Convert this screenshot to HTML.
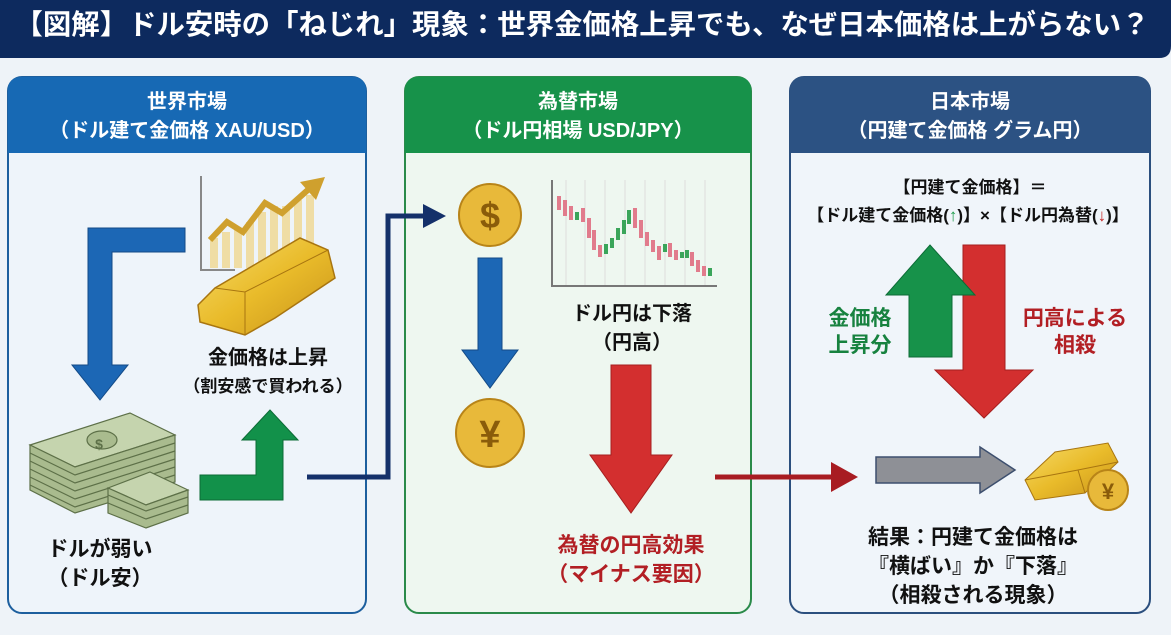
<!DOCTYPE html>
<html><head><meta charset="utf-8"><style>
body{margin:0;width:1171px;height:630px;overflow:hidden;background:#eef3f8;font-family:"Liberation Sans","Noto Sans CJK JP",sans-serif;}
text{font-family:"Liberation Sans","Noto Sans CJK JP",sans-serif;font-weight:bold;}
</style></head><body>
<svg width="1171" height="630" viewBox="0 0 1171 630" xmlns="http://www.w3.org/2000/svg">
<defs>
<linearGradient id="gold" x1="0" y1="0" x2="1" y2="1"><stop offset="0" stop-color="#f7dc6a"/><stop offset="0.5" stop-color="#e9bb2a"/><stop offset="1" stop-color="#c8921a"/></linearGradient>
</defs>
<path d="M0 0H1171V46Q1171 58 1159 58H0Z" fill="#0d2a5e"/>
<text x="582" y="34" font-size="28" fill="#fff" text-anchor="middle" textLength="1135" lengthAdjust="spacingAndGlyphs">【図解】ドル安時の「ねじれ」現象：世界金価格上昇でも、なぜ日本価格は上がらない？</text>

<rect x="8" y="77" width="358" height="536" rx="14" fill="#eef4fa" stroke="#1d5f9e" stroke-width="2"/>
<path d="M8 153V91Q8 77 22 77H352Q366 77 366 91V153Z" fill="#1769b4"/>
<text x="187" y="108" font-size="20" fill="#fff" text-anchor="middle">世界市場</text>
<text x="187" y="137" font-size="20" fill="#fff" text-anchor="middle">（ドル建て金価格 XAU/USD）</text>

<rect x="405" y="77" width="346" height="536" rx="14" fill="#eef7f0" stroke="#2a8a4a" stroke-width="2"/>
<path d="M405 153V91Q405 77 419 77H737Q751 77 751 91V153Z" fill="#17924a"/>
<text x="578" y="108" font-size="20" fill="#fff" text-anchor="middle">為替市場</text>
<text x="578" y="137" font-size="20" fill="#fff" text-anchor="middle">（ドル円相場 USD/JPY）</text>

<rect x="790" y="77" width="360" height="536" rx="14" fill="#f0f5fa" stroke="#2b4f7e" stroke-width="2"/>
<path d="M790 153V91Q790 77 804 77H1136Q1150 77 1150 91V153Z" fill="#2c5283"/>
<text x="970" y="108" font-size="20" fill="#fff" text-anchor="middle">日本市場</text>
<text x="970" y="137" font-size="20" fill="#fff" text-anchor="middle">（円建て金価格 グラム円）</text>

<path d="M185 228V252H112V365H128L100 400L72 365H88V228Z" fill="#1c67b5" stroke="#134a86" stroke-width="1"/>
<path d="M201 176V270H235" stroke="#888" stroke-width="2" fill="none"/>
<g fill="#f0d890" opacity="0.8"><rect x="210" y="238" width="8" height="30"/><rect x="222" y="232" width="8" height="36"/><rect x="234" y="228" width="8" height="40"/><rect x="246" y="222" width="8" height="46"/><rect x="258" y="212" width="8" height="56"/><rect x="270" y="206" width="8" height="62"/><rect x="282" y="206" width="8" height="62"/><rect x="294" y="200" width="8" height="68"/><rect x="306" y="195" width="8" height="73"/></g>
<path d="M210 240L227 222L243 232L265 203L282 213L310 188" stroke="#cfa02e" stroke-width="6" fill="none"/>
<path d="M300 182L325 177L316 200Z" fill="#cfa02e"/>
<path d="M198 305L215 288L300 238L328 250L335 278L275 318L245 335L200 322Z" fill="url(#gold)" stroke="#a87510" stroke-width="1.5"/>
<path d="M215 288L245 292L328 250M245 292L245 335" stroke="#a87510" fill="none"/>
<text x="268" y="364" font-size="20" fill="#111" text-anchor="middle">金価格は上昇</text>
<text x="268" y="392" font-size="17" fill="#111" text-anchor="middle">（割安感で買われる）</text>
<g stroke="#5d7048" stroke-width="1.2">
<path d="M30 445L130 413L175 435L75 467Z" fill="#c5d4ae"/>
<path d="M30 445V490L75 513L175 482V435L75 467Z" fill="#a9bb8e"/>
<path d="M30 453L75 475L175 443M30 461L75 483L175 451M30 469L75 491L175 459M30 477L75 499L175 467M30 485L75 507L175 475" fill="none"/>
<ellipse cx="102" cy="440" rx="15" ry="9" fill="#a9bb8e"/>
<path d="M108 488L150 472L188 490L146 505Z" fill="#c5d4ae"/>
<path d="M108 488V513L146 528L188 513V490L146 505Z" fill="#a9bb8e"/>
<path d="M108 495L146 511L188 497M108 503L146 519L188 505" fill="none"/>
</g>
<text x="99" y="449" font-size="14" fill="#5d7048" text-anchor="middle">$</text>
<path d="M200 475H256V440H242L270 410L298 440H283V500H200Z" fill="#12914a" stroke="#0c6b36" stroke-width="1"/>
<text x="100" y="556" font-size="21" fill="#111" text-anchor="middle">ドルが弱い</text>
<text x="100" y="585" font-size="21" fill="#111" text-anchor="middle">（ドル安）</text>

<path d="M307 477H388V216H425" stroke="#14306a" stroke-width="5" fill="none"/>
<path d="M423 204L446 216L423 228Z" fill="#14306a"/>

<circle cx="490" cy="215" r="31" fill="#e8b93a" stroke="#b88418" stroke-width="2"/>
<text x="490" y="228" font-size="36" fill="#8a5c0a" text-anchor="middle">$</text>
<path d="M478 258H502V350H518L490 388L462 350H478Z" fill="#1c67b5" stroke="#134a86"/>
<circle cx="490" cy="433" r="34" fill="#e8b93a" stroke="#b88418" stroke-width="2"/>
<text x="490" y="447" font-size="38" fill="#8a5c0a" text-anchor="middle">¥</text>
<g stroke="#ddd" stroke-width="1"><path d="M566 180V285M585 180V285M605 180V285M625 180V285M645 180V285M665 180V285M685 180V285M705 180V285"/></g>
<path d="M552 180V286H717" stroke="#777" stroke-width="2" fill="none"/>
<g fill="#e17b8c">
<rect x="557" y="196" width="4" height="14"/><rect x="563" y="200" width="4" height="16"/><rect x="569" y="206" width="4" height="14"/><rect x="581" y="208" width="4" height="14"/><rect x="587" y="218" width="4" height="20"/><rect x="592" y="230" width="4" height="20"/><rect x="598" y="245" width="4" height="12"/><rect x="633" y="208" width="4" height="20"/><rect x="639" y="220" width="4" height="18"/><rect x="645" y="232" width="4" height="14"/><rect x="651" y="240" width="4" height="12"/><rect x="657" y="246" width="4" height="14"/><rect x="668" y="243" width="4" height="14"/><rect x="674" y="250" width="4" height="10"/><rect x="690" y="252" width="4" height="14"/><rect x="696" y="260" width="4" height="12"/><rect x="702" y="266" width="4" height="10"/>
</g>
<g fill="#3aa55a">
<rect x="575" y="212" width="4" height="8"/><rect x="604" y="244" width="4" height="10"/><rect x="610" y="238" width="4" height="10"/><rect x="616" y="228" width="4" height="12"/><rect x="622" y="220" width="4" height="14"/><rect x="627" y="210" width="4" height="14"/><rect x="663" y="244" width="4" height="8"/><rect x="680" y="252" width="4" height="6"/><rect x="685" y="250" width="4" height="8"/><rect x="708" y="268" width="4" height="8"/>
</g>
<text x="632" y="320" font-size="20" fill="#111" text-anchor="middle">ドル円は下落</text>
<text x="632" y="349" font-size="20" fill="#111" text-anchor="middle">（円高）</text>
<path d="M611 365H651V455H672L631 513L590 455H611Z" fill="#d32f2f" stroke="#a51f1f"/>
<text x="631" y="552" font-size="21" fill="#b21f24" text-anchor="middle">為替の円高効果</text>
<text x="631" y="581" font-size="21" fill="#b21f24" text-anchor="middle">（マイナス要因）</text>

<path d="M715 477H833" stroke="#a81c22" stroke-width="5" fill="none"/>
<path d="M831 462L858 477L831 492Z" fill="#a81c22"/>

<text x="970" y="193" font-size="17" fill="#111" text-anchor="middle">【円建て金価格】＝</text>
<text x="968" y="221" font-size="17" fill="#111" text-anchor="middle">【ドル建て金価格(<tspan fill="#1a9a48">↑</tspan>)】×【ドル円為替(<tspan fill="#c62828">↓</tspan>)】</text>
<path d="M963 245H1005V370H1033L984 418L935 370H963Z" fill="#d32f2f" stroke="#a51f1f"/>
<path d="M909 357V295H886L930 245L975 295H952V357Z" fill="#17924a" stroke="#0c6b36"/>
<text x="860" y="325" font-size="21" fill="#17823f" text-anchor="middle">金価格</text>
<text x="860" y="352" font-size="21" fill="#17823f" text-anchor="middle">上昇分</text>
<text x="1075" y="325" font-size="21" fill="#b21f24" text-anchor="middle">円高による</text>
<text x="1075" y="352" font-size="21" fill="#b21f24" text-anchor="middle">相殺</text>
<path d="M876 457H980V447L1015 470L980 493V483H876Z" fill="#8e9096" stroke="#3d4f6e" stroke-width="1.5"/>
<path d="M1025 480L1055 452L1108 443L1118 462L1085 493L1035 500Z" fill="url(#gold)" stroke="#a87510"/>
<path d="M1025 480L1078 470L1118 462M1078 470L1085 493" stroke="#a87510" fill="none"/>
<circle cx="1108" cy="490" r="20" fill="#e8b93a" stroke="#b88418" stroke-width="2"/>
<text x="1108" y="499" font-size="22" fill="#8a5c0a" text-anchor="middle">¥</text>
<text x="973" y="544" font-size="21" fill="#111" text-anchor="middle">結果：円建て金価格は</text>
<text x="973" y="573" font-size="21" fill="#111" text-anchor="middle">『横ばい』か『下落』</text>
<text x="973" y="602" font-size="21" fill="#111" text-anchor="middle">（相殺される現象）</text>
</svg>
</body></html>
